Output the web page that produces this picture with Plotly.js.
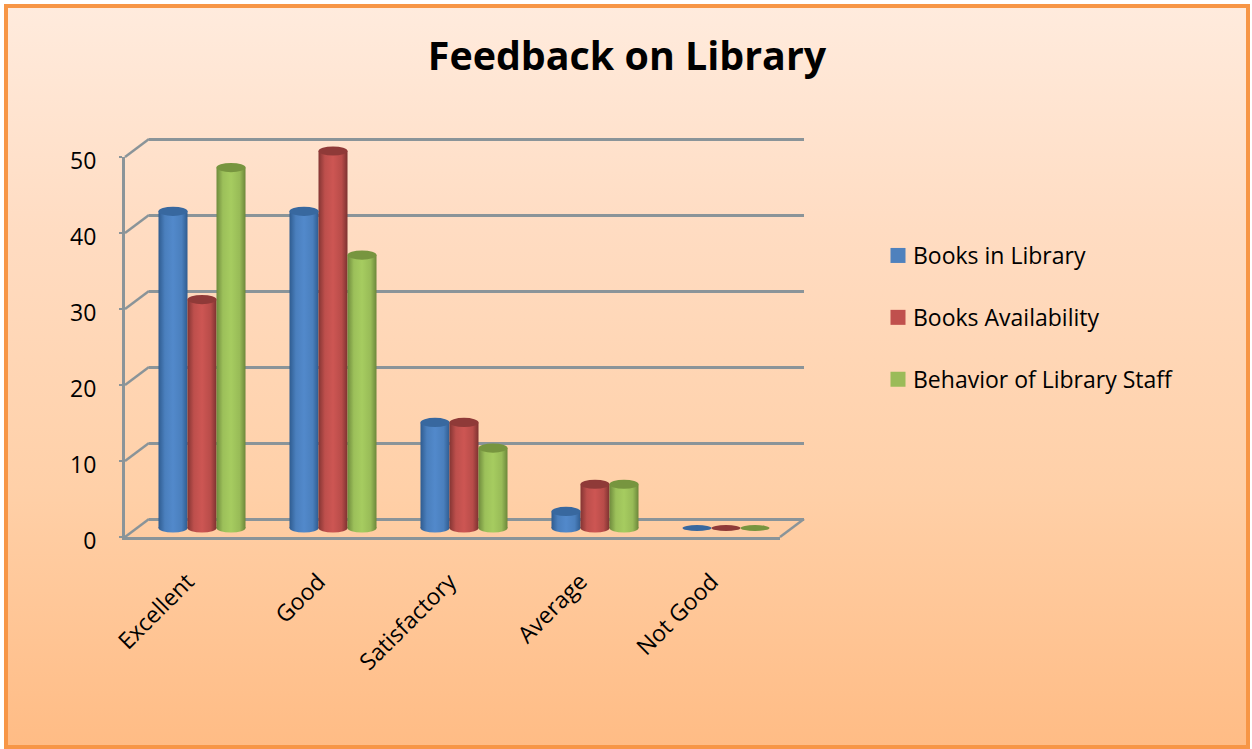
<!DOCTYPE html>
<html>
<head>
<meta charset="utf-8">
<script src="https://cdn.plot.ly/plotly-3.0.1.min.js"></script>
<style>
html,body{margin:0;padding:0;background:#fff;width:1252px;height:749px;overflow:hidden}
#bg{position:absolute;left:4px;top:4px;width:1238px;height:737px;border:4px solid #f79646;background:linear-gradient(180deg,#ffebdd 0%,#ffdcc2 30%,#ffd0a8 65%,#ffbc85 100%)}
#chart{position:absolute;left:0;top:0;width:1252px;height:749px}
</style>
</head>
<body>
<div id="bg"></div>
<div id="chart"></div>
<script>
const categories = ["Excellent", "Good", "Satisfactory", "Average", "Not Good"];
const booksInLibrary = [42, 42, 14, 2.2, 0];
const booksAvailability = [30.3, 50, 14, 5.8, 0];
const behaviorOfStaff = [47.8, 36.2, 10.6, 5.8, 0];
const seriesNames = ["Books in Library", "Books Availability", "Behavior of Library Staff"];
const yTicks = [0, 10, 20, 30, 40, 50];

const W = 1252, H = 749;
const fx = (a, b) => [a / W, b / W];
const fy = (top, bottom) => [1 - bottom / H, 1 - top / H];
const px = v => v / W, py = v => 1 - v / H;

const seriesValues = [booksInLibrary, booksAvailability, behaviorOfStaff];
const solid = ["#4f81bd", "#c0504d", "#9bbb59"];
const capColor = ["#38689f", "#8f3a38", "#77953f"];
const grads = [
  ["#2f5c90", "#4a7fbd", "#5289cb", "#4a7fbd", "#2f5c90"],
  ["#843533", "#bd4f4c", "#cd5653", "#b84c49", "#7d3230"],
  ["#6f8b3d", "#9cc05a", "#a6cc60", "#98bb57", "#6c873a"]
];
const font = "'Open Sans', 'Noto Sans', sans-serif";
const barWidth = 0.2214;
const unitPx = (528 - 151) / 50;

const traces = [
  {type: "scatter", x: [0], y: [0], xaxis: "x", yaxis: "y", mode: "none", showlegend: false, hoverinfo: "skip"},
  {type: "scatter", x: [0], y: [0], xaxis: "x2", yaxis: "y2", mode: "none", showlegend: false, hoverinfo: "skip"}
];
const shapes = [];
seriesValues.forEach((vals, s) => {
  traces.push({
    type: "bar", name: seriesNames[s], x: categories.map((c, i) => i), y: vals,
    xaxis: "x3", yaxis: "y3", width: barWidth,
    offset: (s - 1.5) * barWidth,
    marker: {color: solid[s], line: {width: 0}},
    legendgroup: seriesNames[s], hoverinfo: "skip"
  });
  vals.forEach((v, i) => {
    const cx = i + (s - 1) * barWidth;
    const topH = (v > 0 ? 4.6 : 3) / unitPx;
    if (v > 0) {
      const bh = 4.6 / unitPx;
      shapes.push({type: "circle", layer: "below", xref: "x3", yref: "y3",
        x0: cx - barWidth / 2, x1: cx + barWidth / 2, y0: -bh, y1: bh,
        fillcolor: grads[s][1], line: {width: 0}});
    }
    shapes.push({type: "circle", layer: "above", xref: "x3", yref: "y3",
      x0: cx - barWidth / 2, x1: cx + barWidth / 2, y0: v - topH, y1: v + topH,
      fillcolor: capColor[s], line: {width: 0}});
  });
});

const gridColor = "#8a9499";
yTicks.forEach(t => {
  const yFront = 537 - t * 7.6;
  shapes.push({type: "line", layer: "below", xref: "paper", yref: "paper",
    x0: px(125), y0: py(yFront), x1: px(149), y1: py(yFront - 18),
    line: {color: gridColor, width: 2.4}});
});
shapes.push({type: "line", layer: "below", xref: "paper", yref: "paper",
  x0: px(780), y0: py(537), x1: px(804), y1: py(519), line: {color: gridColor, width: 2.4}});

const layout = {
  width: W, height: H,
  margin: {l: 0, r: 0, t: 0, b: 0},
  paper_bgcolor: "rgba(0,0,0,0)", plot_bgcolor: "rgba(0,0,0,0)",
  font: {family: font, color: "#000"},
  title: {text: "Feedback on Library", x: 627 / W, xanchor: "center", y: py(56), yanchor: "middle",
    font: {family: font, size: 39.4, color: "#000", weight: 700}},
  barmode: "group", bargap: 0.336,
  showlegend: true,
  legend: {x: px(873), xanchor: "left", y: py(234), yanchor: "top", bgcolor: "rgba(0,0,0,0)",
    font: {family: font, size: 23, color: "#000"}, tracegroupgap: 29, itemwidth: 30, itemclick: false, itemdoubleclick: false},
  xaxis: {domain: fx(125, 780), range: [-0.5, 4.5], anchor: "y", tickmode: "array",
    tickvals: categories.map((c, i) => i), ticktext: categories, tickangle: -45,
    tickfont: {family: font, size: 23, color: "#000"}, showgrid: false, zeroline: false,
    showline: true, linecolor: gridColor, linewidth: 3, ticks: "", ticklabelstandoff: 19, ticklabelshift: -3, fixedrange: true},
  yaxis: {domain: fy(157, 537), range: [0, 50], anchor: "x", tickmode: "array", tickvals: yTicks,
    tickfont: {family: font, size: 23, color: "#000"}, showgrid: false, zeroline: false,
    showline: true, linecolor: gridColor, linewidth: 3, ticks: "outside", ticklen: 3, tickcolor: gridColor, tickwidth: 2.4,
    ticklabelstandoff: 18, ticklabelshift: 4, fixedrange: true},
  xaxis2: {domain: fx(149, 804), range: [-0.5, 4.5], anchor: "y2", visible: false, fixedrange: true},
  yaxis2: {domain: fy(139 - 3.8, 519 + 3.8), range: [-0.5, 50.5], anchor: "x2", tickmode: "array", tickvals: yTicks,
    showticklabels: false, showgrid: true, gridcolor: gridColor, gridwidth: 3, zeroline: false, showline: false, ticks: "", fixedrange: true},
  xaxis3: {domain: fx(136.5, 791.5), range: [-0.5, 4.5], anchor: "y3", visible: false, fixedrange: true},
  yaxis3: {domain: fy(151 - 2 * unitPx, 528 + 2 * unitPx), range: [-2, 52], anchor: "x3", visible: false, fixedrange: true},
  shapes: shapes
};

Plotly.newPlot("chart", traces, layout, {displayModeBar: false}).then(gd => {
  const svg = gd.querySelector("svg.main-svg");
  const ns = "http://www.w3.org/2000/svg";
  const defs = document.createElementNS(ns, "defs");
  grads.forEach((g, s) => {
    const lg = document.createElementNS(ns, "linearGradient");
    lg.setAttribute("id", "cyl" + s);
    lg.setAttribute("x1", "0"); lg.setAttribute("x2", "1"); lg.setAttribute("y1", "0"); lg.setAttribute("y2", "0");
    [0, 0.22, 0.5, 0.8, 1].forEach((o, k) => {
      const st = document.createElementNS(ns, "stop");
      st.setAttribute("offset", o); st.setAttribute("stop-color", g[k]);
      lg.appendChild(st);
    });
    defs.appendChild(lg);
  });
  svg.insertBefore(defs, svg.firstChild);
  gd.querySelectorAll(".barlayer .trace.bars").forEach((t, s) => {
    t.querySelectorAll("path").forEach(p => { p.style.fill = "url(#cyl" + s + ")"; });
  });
  gd.querySelectorAll(".shapelayer path").forEach(p => {
    const f = p.style.fill;
    grads.forEach((g, s) => {
      const d = document.createElement("div"); d.style.color = g[1];
      if (f === d.style.color) p.style.fill = "url(#cyl" + s + ")";
    });
  });
  gd.querySelectorAll(".legendpoints path").forEach(p => {
    p.setAttribute("transform", (p.getAttribute("transform") || "") + " translate(5,0) scale(1.25)");
  });
});
</script>
</body>
</html>
